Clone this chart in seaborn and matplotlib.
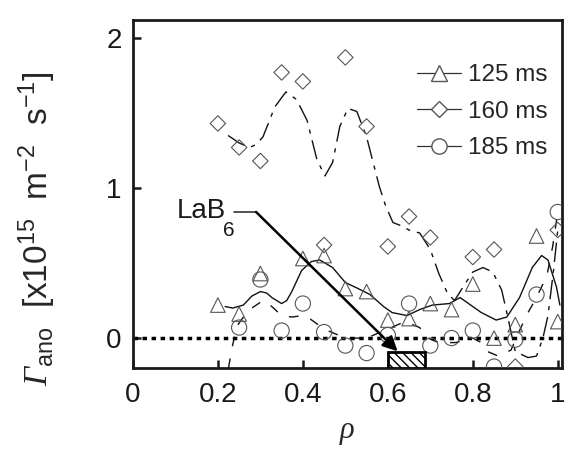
import numpy as np
import matplotlib
matplotlib.use("Agg")
import matplotlib.pyplot as plt
import seaborn as sns
from matplotlib.lines import Line2D
from matplotlib.patches import Rectangle

# measured points
rho_125 = [0.2, 0.25, 0.3, 0.4, 0.45, 0.5, 0.55, 0.6, 0.65, 0.7, 0.75, 0.8, 0.85, 0.9, 0.95, 1.0]
gam_125 = [0.22, 0.16, 0.43, 0.53, 0.55, 0.33, 0.31, 0.12, 0.13, 0.23, 0.19, 0.36, 0.0, 0.09, 0.68, 0.11]

rho_160 = [0.2, 0.25, 0.3, 0.35, 0.4, 0.45, 0.5, 0.55, 0.6, 0.65, 0.7, 0.8, 0.85, 0.9, 1.0]
gam_160 = [1.43, 1.27, 1.18, 1.77, 1.71, 0.62, 1.87, 1.41, 0.61, 0.81, 0.67, 0.54, 0.59, -0.19, 0.72]

rho_185 = [0.25, 0.3, 0.35, 0.4, 0.45, 0.5, 0.55, 0.6, 0.65, 0.7, 0.75, 0.8, 0.85, 0.9, 0.95, 1.0]
gam_185 = [0.07, 0.39, 0.05, 0.23, 0.04, -0.05, -0.1, 0.02, 0.23, -0.05, 0.0, 0.05, -0.19, -0.01, 0.29, 0.84]

# smoothed fit curves
fit_125_x = [0.217, 0.235, 0.26, 0.28, 0.30, 0.315, 0.327, 0.35, 0.362, 0.374, 0.397, 0.42, 0.44, 0.47, 0.50,
             0.53, 0.558, 0.59, 0.61, 0.645, 0.675, 0.705, 0.745, 0.77, 0.79, 0.82, 0.855, 0.88, 0.91,
             0.94, 0.962, 0.977, 0.997, 1.005]
fit_125_y = [0.21, 0.20, 0.22, 0.28, 0.31, 0.30, 0.27, 0.23, 0.25, 0.31, 0.45, 0.51, 0.52, 0.47, 0.37,
             0.33, 0.29, 0.21, 0.17, 0.15, 0.19, 0.22, 0.23, 0.27, 0.23, 0.17, 0.12, 0.14, 0.27,
             0.47, 0.55, 0.52, 0.34, 0.22]

fit_160_x = [0.224, 0.25, 0.275, 0.29, 0.306, 0.334, 0.36, 0.385, 0.41, 0.433, 0.452, 0.47, 0.487, 0.506,
             0.527, 0.55, 0.57, 0.58, 0.595, 0.612, 0.63, 0.65, 0.675, 0.70, 0.72, 0.74, 0.757, 0.777,
             0.80, 0.824, 0.847, 0.868, 0.88, 0.90, 0.93, 0.95, 0.965, 0.977, 0.99, 1.0]
fit_160_y = [1.35, 1.30, 1.27, 1.29, 1.34, 1.54, 1.64, 1.59, 1.45, 1.19, 1.08, 1.17, 1.41, 1.53,
             1.51, 1.34, 1.12, 1.01, 0.88, 0.77, 0.75, 0.72, 0.70, 0.59, 0.43, 0.30, 0.25, 0.34,
             0.44, 0.47, 0.44, 0.32, 0.17, -0.09, -0.13, -0.12, 0.0, 0.15, 0.45, 0.72]

fit_185_x = [0.225, 0.232, 0.245, 0.265, 0.28, 0.306, 0.327, 0.35, 0.374, 0.40, 0.416, 0.45, 0.50, 0.55,
             0.60, 0.64, 0.675, 0.694, 0.72, 0.76, 0.80, 0.82, 0.835, 0.86, 0.89, 0.91, 0.93, 0.946,
             0.974, 0.988, 1.0]
fit_185_y = [-0.2, -0.08, 0.08, 0.16, 0.2, 0.25, 0.21, 0.15, 0.14, 0.15, 0.13, 0.06, 0.0, 0.0,
             0.06, 0.11, 0.07, 0.0, -0.03, -0.03, 0.0, -0.03, -0.09, -0.12, -0.08, 0.05, 0.17, 0.25,
             0.41, 0.61, 0.84]

labels = ["125 ms", "160 ms", "185 ms"]
lab6_rho = [0.6, 0.687]
lab6_top = -0.093

sns.set_style("ticks")
plt.rcParams['font.family'] = ['Liberation Sans', 'DejaVu Sans']
plt.rcParams['mathtext.fontset'] = 'custom'
plt.rcParams['mathtext.rm'] = 'Liberation Sans'
plt.rcParams['mathtext.it'] = 'Liberation Sans:italic'
plt.rcParams['mathtext.cal'] = 'Liberation Serif:italic'

fig = plt.figure(figsize=(5.83, 4.63), dpi=100)
ax = fig.add_axes([0.228, 0.205, 0.736, 0.752])

mk_col = '#555555'
sns.lineplot(x=fit_125_x, y=fit_125_y, sort=False, estimator=None, ax=ax, color='#111111', lw=1.0)
sns.lineplot(x=fit_160_x, y=fit_160_y, sort=False, estimator=None, ax=ax, color='#111111', lw=1.0,
             linestyle=(0, (14, 5, 3, 5)))
sns.lineplot(x=fit_185_x, y=fit_185_y, sort=False, estimator=None, ax=ax, color='#111111', lw=1.0,
             linestyle=(0, (7, 9)))

for xs, ys, m, s in [(rho_125, gam_125, '^', 110), (rho_160, gam_160, 'D', 62), (rho_185, gam_185, 'o', 120)]:
    sns.scatterplot(x=xs, y=ys, marker=m, s=s, ax=ax, facecolor='none', edgecolor=mk_col, linewidth=0.8, zorder=3)

ax.axhline(0, color='k', lw=2.5, linestyle=(0, (1.3, 1.3)), zorder=2)

ax.add_patch(Rectangle((lab6_rho[0], -0.2), lab6_rho[1] - lab6_rho[0], lab6_top + 0.2,
                       facecolor='white', edgecolor='k', lw=2, hatch='\\\\\\\\', zorder=4))

ax.plot([0.237, 0.29], [0.84, 0.84], color='#333333', lw=1.2)
ax.annotate("", xy=(0.623, lab6_top + 0.005), xytext=(0.29, 0.84),
            arrowprops=dict(arrowstyle='-|>', color='k', lw=1.8, mutation_scale=22, shrinkA=0, shrinkB=0))
ax.text(0.104, 0.85, "LaB", fontsize=20, va='center', ha='left', color='#1a1a1a')
ax.text(0.212, 0.72, "6", fontsize=15, va='center', ha='left', color='#1a1a1a')

ax.set_xlim(0, 1.01)
ax.set_ylim(-0.2, 2.12)
ax.set_xticks([0, 0.2, 0.4, 0.6, 0.8, 1.0])
ax.set_xticklabels(["0", "0.2", "0.4", "0.6", "0.8", "1"])
ax.set_yticks([0, 1, 2])
ax.tick_params(direction='in', length=6, width=1.8, labelsize=20, pad=8, colors='#1a1a1a')
ax.tick_params(axis='x', pad=10)
for sp in ax.spines.values():
    sp.set_linewidth(2)
    sp.set_color('#1a1a1a')

ax.set_xlabel("ρ", fontsize=22, family='Liberation Serif', style='italic', labelpad=6)
ax.set_ylabel(r"$\mathcal{\Gamma}_{\mathrm{ano}}$  [x10$^{15}$  m$^{-2}$  s$^{-1}$]", fontsize=24)
ax.yaxis.set_label_coords(-0.175, 0.40)

handles = [
    Line2D([], [], color='#333333', lw=0.9, marker='^', markersize=11, markerfacecolor='white', markeredgecolor=mk_col),
    Line2D([], [], color='#333333', lw=0.9, marker='D', markersize=8, markerfacecolor='white', markeredgecolor=mk_col),
    Line2D([], [], color='#333333', lw=0.9, marker='o', markersize=11, markerfacecolor='white', markeredgecolor=mk_col),
]
ax.legend(handles, labels, loc='upper right', bbox_to_anchor=(1.0, 0.915), frameon=False, fontsize=17.5,
          handlelength=1.8, handletextpad=0.3, labelspacing=0.6, borderaxespad=0.2)

fig.savefig("out.png", dpi=100)
